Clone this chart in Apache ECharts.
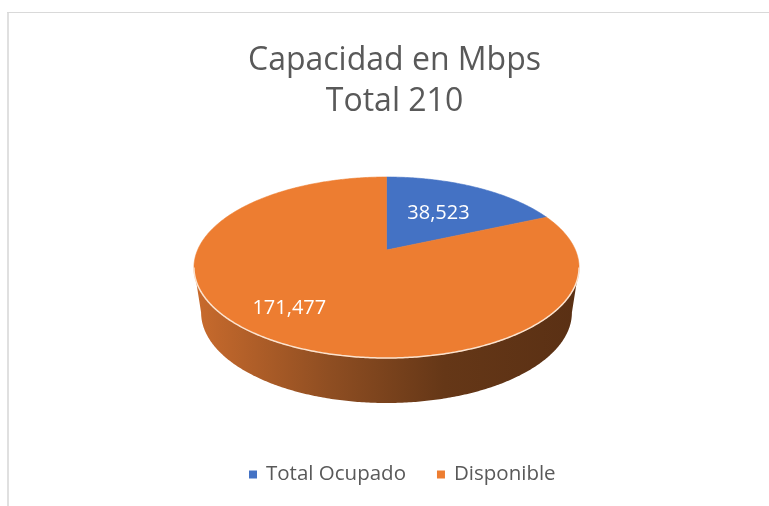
<!DOCTYPE html>
<html>
<head>
<meta charset="utf-8">
<script src="https://cdn.jsdelivr.net/npm/echarts@6/dist/echarts.min.js"></script>
<style>
html,body{margin:0;padding:0;background:#fff;}
#chart{width:769px;height:506px;}
</style>
</head>
<body>
<div id="chart"></div>
<script>
// ---- data ----
const categories = ['Total Ocupado', 'Disponible'];
const values = [38.523, 171.477];
const colors = ['#4472c4', '#ed7d31'];
const titleText = 'Capacidad en Mbps\nTotal 210';

// ---- 3D pie projection (layout, not data) ----
const G = { cx: 386.5, cy: 268, a: 188.9, b: 90.6, c: -0.1934, e: -18, depth: 45, shrink: 0.963 };
const TWO_PI = Math.PI * 2;
const TH_R = Math.PI - Math.acos(-G.c);   // right silhouette angle
const TH_L = Math.PI + Math.acos(-G.c);   // left silhouette angle
const labelRadius = [0.55, 0.745];
const labelShift = [0, 4.7 * Math.PI / 180];

function topPt(theta, r) {
  const u = r * Math.sin(theta), v = -r * Math.cos(theta);
  const d = 1 + G.c * v;
  return [G.cx + G.a * u / d, G.cy + (G.b * v + G.e) / d];
}
function botPt(theta) {
  const p = topPt(theta, 1);
  return [G.cx + (p[0] - G.cx) * G.shrink, p[1] + G.depth];
}
function arc(t1, t2, fn) {
  const pts = [];
  const n = Math.max(2, Math.ceil((t2 - t1) / 0.01));
  for (let i = 0; i <= n; i++) pts.push(fn(t1 + (t2 - t1) * i / n));
  return pts;
}
const total = values.reduce((s, v) => s + v, 0);
const starts = values.map((v, i) => values.slice(0, i).reduce((s, x) => s + x, 0));

function fmt(v) { return v.toFixed(3).replace('.', ','); }

const wallGradient = new echarts.graphic.LinearGradient(194, 0, 579, 0, [
  { offset: 0, color: '#c96b2d' },
  { offset: 0.35, color: '#8f4e22' },
  { offset: 0.65, color: '#653717' },
  { offset: 1, color: '#5a3014' }
], true);

const series = categories.map((name, idx) => ({
  type: 'custom',
  name: name,
  coordinateSystem: 'none',
  itemStyle: { color: colors[idx] },
  z: 2,
  data: [[starts[idx], values[idx], total]],
  renderItem: function (params, api) {
    const s = api.value(0), v = api.value(1), tot = api.value(2);
    const t1 = s / tot * TWO_PI, t2 = (s + v) / tot * TWO_PI;
    const children = [];
    const v1 = Math.max(t1, TH_R), v2 = Math.min(t2, TH_L);
    let edge = null;
    if (v2 > v1) {
      edge = arc(v1, v2, t => topPt(t, 1));
      const bot = arc(v1, v2, botPt).reverse();
      children.push({ type: 'polygon', shape: { points: edge.concat(bot) },
        style: { fill: wallGradient, stroke: null } });
    }
    const face = [topPt(0, 0)].concat(arc(t1, t2, t => topPt(t, 1)));
    children.push({ type: 'polygon', shape: { points: face },
      style: { fill: colors[idx], stroke: colors[idx], lineWidth: 0.6 } });
    if (edge) {
      children.push({ type: 'polyline', shape: { points: edge },
        style: { stroke: '#fbe3cf', lineWidth: 1.5, fill: null } });
    }
    const mid = (t1 + t2) / 2 + labelShift[idx];
    const lp = topPt(mid, labelRadius[idx]);
    children.push({ type: 'text', x: lp[0], y: lp[1],
      style: { text: fmt(v), fill: '#ffffff', font: '20px "Open Sans"', align: 'center', verticalAlign: 'middle' } });
    return { type: 'group', children: children };
  }
}));

const chart = echarts.init(document.getElementById('chart'));
chart.setOption({
  animation: false,
  backgroundColor: '#ffffff',
  legend: {
    data: categories,
    left: 244,
    top: 459,
    itemWidth: 8,
    itemHeight: 8,
    itemGap: 31,
    icon: 'rect',
    selectedMode: false,
    textStyle: { fontFamily: 'Open Sans', fontSize: 20.5, color: '#595959', padding: [0, 0, 0, 4] }
  },
  graphic: [
    { type: 'line', shape: { x1: 7, y1: 12.5, x2: 769, y2: 12.5 }, style: { stroke: '#d9d9d9', lineWidth: 1 }, silent: true },
    { type: 'line', shape: { x1: 8, y1: 12, x2: 8, y2: 506 }, style: { stroke: '#d9d9d9', lineWidth: 1.6 }, silent: true },
    { type: 'text', x: 394.5, y: 40, silent: true,
      style: { text: titleText, align: 'center', verticalAlign: 'top', fill: '#595959',
        font: '32px "Open Sans"', lineHeight: 41 } }
  ],
  series: series
});
</script>
</body>
</html>
